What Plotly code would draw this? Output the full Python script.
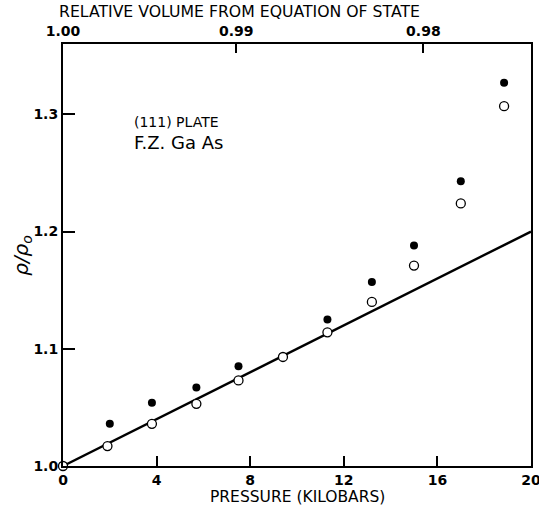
import plotly.graph_objects as go

# Measured density ratio vs. pressure for a (111) GaAs plate
pressure_closed = [2.0, 3.8, 5.7, 7.5, 11.3, 13.2, 15.0, 17.0, 18.85]
rho_closed = [1.036, 1.054, 1.067, 1.085, 1.125, 1.157, 1.188, 1.243, 1.327]

pressure_open = [0.0, 1.9, 3.8, 5.7, 7.5, 9.4, 11.3, 13.2, 15.0, 17.0, 18.85]
rho_open = [1.0, 1.017, 1.036, 1.053, 1.073, 1.093, 1.114, 1.140, 1.171, 1.224, 1.307]

# Reference line from the equation of state
line_pressure = [0.0, 20.0]
line_rho = [1.0, 1.2]

# Bottom and left axis ticks
pressure_ticks = [0, 4, 8, 12, 16, 20]
rho_ticks = [1.0, 1.1, 1.2, 1.3]
rho_tick_text = ["1.0", "1.1", "1.2", "1.3"]

# Top axis: relative volume at the corresponding pressures
volume_tick_pressures = [0.0, 7.4, 15.4]
volume_tick_text = ["1.00", "0.99", "0.98"]

FONT = "DejaVu Sans"
TICKFONT = dict(size=14, family=FONT, weight="bold")

fig = go.Figure()

fig.add_trace(go.Scatter(
    x=line_pressure, y=line_rho, mode="lines",
    line=dict(color="black", width=2.4), showlegend=False, hoverinfo="skip",
))
fig.add_trace(go.Scatter(
    x=pressure_open, y=rho_open, mode="markers",
    marker=dict(symbol="circle", size=9, color="white",
                line=dict(color="black", width=1.3)),
    cliponaxis=False, showlegend=False,
))
fig.add_trace(go.Scatter(
    x=pressure_closed, y=rho_closed, mode="markers",
    marker=dict(symbol="circle", size=8, color="black"),
    cliponaxis=False, showlegend=False,
))
# invisible trace to activate the top axis
fig.add_trace(go.Scatter(
    x=[0, 20], y=[1.0, 1.0], xaxis="x2", mode="markers",
    marker=dict(opacity=0), showlegend=False, hoverinfo="skip",
))

fig.update_layout(
    width=539, height=508,
    margin=dict(l=63, r=8, t=44, b=42, autoexpand=False),
    paper_bgcolor="white", plot_bgcolor="white",
    font=dict(family=FONT, color="black"),
    xaxis=dict(
        range=[0, 20], tickvals=pressure_ticks, automargin=False,
        ticklabeloverflow="allow",
        ticks="inside", ticklen=10, tickwidth=1.6, tickcolor="black",
        showline=True, linecolor="black", linewidth=2, mirror=False,
        showgrid=False, zeroline=False,
        tickfont=TICKFONT,
    ),
    xaxis2=dict(
        range=[0, 20], overlaying="x", side="top", automargin=False,
        ticklabeloverflow="allow",
        tickvals=volume_tick_pressures, ticktext=volume_tick_text,
        ticks="inside", ticklen=9, tickwidth=1.6, tickcolor="black",
        showline=True, linecolor="black", linewidth=2,
        showgrid=False, zeroline=False,
        tickfont=TICKFONT,
    ),
    yaxis=dict(
        range=[1.0, 1.36], tickvals=rho_ticks, ticktext=rho_tick_text,
        automargin=False, ticklabeloverflow="allow",
        ticks="inside", ticklen=12, tickwidth=1.6, tickcolor="black",
        showline=True, linecolor="black", linewidth=2, mirror=True,
        showgrid=False, zeroline=False,
        tickfont=TICKFONT,
    ),
    annotations=[
        dict(text="PRESSURE (KILOBARS)", xref="paper", yref="paper",
             x=0.5, y=-0.073, xanchor="center", yanchor="middle",
             showarrow=False, font=dict(size=15.5, family=FONT)),
        dict(text="RELATIVE VOLUME FROM EQUATION OF STATE", xref="paper", yref="paper",
             x=-0.013, y=1.076, xanchor="left", yanchor="middle",
             showarrow=False, font=dict(size=15.7, family=FONT)),
        dict(text="<i>ρ/ρ<sub>o</sub></i>", xref="paper", yref="paper",
             x=-0.088, y=0.50, xanchor="center", yanchor="middle", textangle=-90,
             showarrow=False, font=dict(size=20, family=FONT)),
        dict(text="(111) PLATE", xref="x", yref="y",
             x=2.95, y=1.2935, xanchor="left", yanchor="middle",
             showarrow=False, font=dict(size=14, family=FONT)),
        dict(text="F.Z. Ga As", xref="x", yref="y",
             x=2.95, y=1.2756, xanchor="left", yanchor="middle",
             showarrow=False, font=dict(size=18, family=FONT)),
    ],
)

fig.write_html("out.html")
